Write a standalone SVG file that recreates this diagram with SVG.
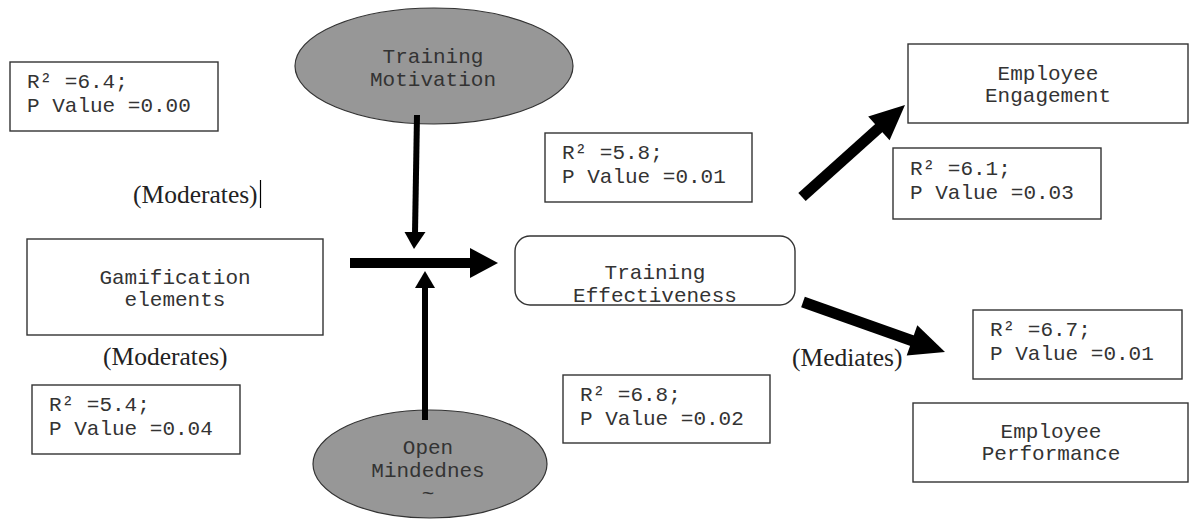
<svg xmlns="http://www.w3.org/2000/svg" width="1189" height="520" viewBox="0 0 1189 520">
<style>
.box{fill:#fff;stroke:#333;stroke-width:1.4}
.ell{fill:#979797;stroke:#333;stroke-width:1.2}
.mono{font-family:"Liberation Mono","Courier New",monospace;font-size:21px;fill:#333}
.c{text-anchor:middle}
.serif{font-family:"Liberation Serif","Times New Roman",serif;font-size:25.5px;fill:#222}
.ln{stroke:#000;fill:none}
.hd{fill:#000}
</style>
<rect width="1189" height="520" fill="#fff"/>

<g id="stat64">
<rect class="box" x="10" y="62" width="208" height="69"/>
<text class="mono" x="27" y="88">R² =6.4;</text>
<text class="mono" x="27" y="112">P Value =0.00</text>
</g>

<g id="moderates-top">
<text class="serif" x="133" y="203">(Moderates)</text>
<line x1="260.5" y1="180" x2="260.5" y2="208" stroke="#000" stroke-width="1.2"/>
</g>

<g id="training-motivation">
<ellipse class="ell" cx="434" cy="66" rx="139" ry="58"/>
<text class="mono c" x="433" y="63">Training</text>
<text class="mono c" x="433" y="86">Motivation</text>
</g>

<g id="gamification">
<rect class="box" x="27" y="239" width="296" height="96"/>
<text class="mono c" x="175" y="284">Gamification</text>
<text class="mono c" x="175" y="306">elements</text>
</g>

<g id="moderates-bottom">
<text class="serif" x="103" y="365">(Moderates)</text>
</g>

<g id="stat54">
<rect class="box" x="32" y="385" width="208" height="69"/>
<text class="mono" x="49" y="411">R² =5.4;</text>
<text class="mono" x="49" y="435">P Value =0.04</text>
</g>

<g id="open-mindedness">
<ellipse class="ell" cx="430" cy="464" rx="117" ry="54"/>
<text class="mono c" x="428" y="454">Open</text>
<text class="mono c" x="428" y="477">Mindednes</text>
<text class="mono c" x="428" y="500">~</text>
</g>

<g id="stat58">
<rect class="box" x="545" y="133" width="207" height="69"/>
<text class="mono" x="562" y="159">R² =5.8;</text>
<text class="mono" x="562" y="183">P Value =0.01</text>
</g>

<g id="training-effectiveness">
<rect class="box" x="515" y="236" width="280" height="69" rx="15" ry="15"/>
<text class="mono c" x="655" y="279">Training</text>
<text class="mono c" x="655" y="302">Effectiveness</text>
</g>

<g id="stat68">
<rect class="box" x="563" y="375" width="207" height="68"/>
<text class="mono" x="580" y="401">R² =6.8;</text>
<text class="mono" x="580" y="425">P Value =0.02</text>
</g>

<g id="employee-engagement">
<rect class="box" x="908" y="44" width="280" height="79"/>
<text class="mono c" x="1048" y="80">Employee</text>
<text class="mono c" x="1048" y="102">Engagement</text>
</g>

<g id="stat61">
<rect class="box" x="893" y="148" width="208" height="71"/>
<text class="mono" x="910" y="175">R² =6.1;</text>
<text class="mono" x="910" y="199">P Value =0.03</text>
</g>

<g id="mediates">
<text class="serif" x="792" y="366">(Mediates)</text>
</g>

<g id="stat67">
<rect class="box" x="973" y="310" width="209" height="69"/>
<text class="mono" x="990" y="336">R² =6.7;</text>
<text class="mono" x="990" y="360">P Value =0.01</text>
</g>

<g id="employee-performance">
<rect class="box" x="913" y="403" width="275" height="79"/>
<text class="mono c" x="1051" y="438">Employee</text>
<text class="mono c" x="1051" y="460">Performance</text>
</g>

<g id="connectors">
<line class="ln" x1="350" y1="263" x2="471" y2="263" stroke-width="10"/>
<polygon class="hd" points="470,248 498,263 470,278"/>
<line class="ln" x1="417" y1="115" x2="415" y2="233" stroke-width="6"/>
<polygon class="hd" points="404.5,232 425.5,232 414,249"/>
<line class="ln" x1="425" y1="420" x2="425" y2="287" stroke-width="6"/>
<polygon class="hd" points="415,288 435,288 425,271"/>
<line class="ln" x1="802" y1="197" x2="880" y2="127" stroke-width="11"/>
<polygon class="hd" points="905,105 889.6,140.2 868.2,116.4"/>
<line class="ln" x1="803" y1="302" x2="913" y2="341" stroke-width="11"/>
<polygon class="hd" points="945,352 906.7,355.5 917.3,325.3"/>
</g>
</svg>
